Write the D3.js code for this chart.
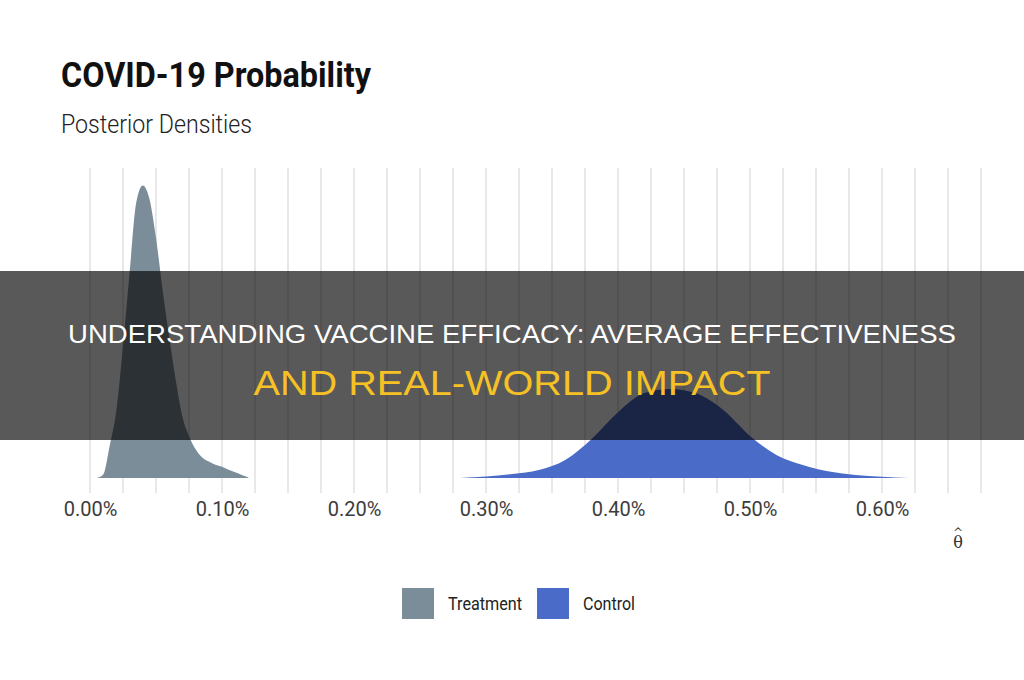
<!DOCTYPE html>
<html>
<head>
<meta charset="utf-8">
<script src="https://cdn.jsdelivr.net/npm/d3@7"></script>
<style>
    body { margin: 0; background: #fff; }
    svg { display: block; }
</style>
</head>
<body>
<script>
// posterior densities, theta in percent
var treatTheta = [0.005, 0.010, 0.015, 0.020, 0.025, 0.030, 0.035, 0.040, 0.045, 0.050, 0.055, 0.060,
    0.065, 0.070, 0.075, 0.080, 0.085, 0.090, 0.095, 0.100, 0.105, 0.110, 0.115, 0.120];
var treatDensity = [0, 0.35, 3.2, 6.6, 12.9, 20.0, 26.8, 28.5, 27.2, 23.4, 18.3, 13.7,
    9.5, 6.0, 4.1, 2.8, 2.0, 1.6, 1.3, 1.1, 0.8, 0.55, 0.3, 0.05];
var ctrlTheta = [0.28, 0.30, 0.32, 0.34, 0.36, 0.38, 0.40, 0.42, 0.44, 0.46, 0.48, 0.50,
    0.52, 0.54, 0.56, 0.58, 0.60, 0.62];
var ctrlDensity = [0, 0.15, 0.4, 0.78, 1.75, 3.8, 6.4, 8.27, 8.66, 8.2, 6.6, 4.1,
    2.24, 1.26, 0.63, 0.3, 0.12, 0];
var gridTicks = d3.range(0, 0.676, 0.025);
var labelTicks = [0, 0.1, 0.2, 0.3, 0.4, 0.5, 0.6];
var seriesNames = ["Treatment", "Control"];
var seriesColors = ["#7b8d99", "#4a6cc8"];

(function(w) {
    var c = {
        W: 1024,
        H: 680,
        svg: null,
        x: null,
        y: null,
        main: function() {
            c.svg = d3.select("body").append("svg")
                .attr("width", c.W)
                .attr("height", c.H);
            c.x = d3.scaleLinear().domain([0, 0.6]).range([90, 882]);
            c.y = d3.scaleLinear().domain([0, 30]).range([478, 170]);

            c.titles();
            c.grid();
            c.areas();
            c.legend();
            c.banner();
        },
        titles: function() {
            c.svg.append("text")
                .attr("x", 61).attr("y", 87)
                .attr("font-family", "Roboto")
                .attr("font-weight", 700)
                .attr("font-size", 35)
                .attr("fill", "#111")
                .attr("textLength", 310)
                .attr("lengthAdjust", "spacingAndGlyphs")
                .text("COVID-19 Probability");
            c.svg.append("text")
                .attr("x", 61).attr("y", 133)
                .attr("font-family", "Roboto")
                .attr("font-weight", 300)
                .attr("font-size", 25)
                .attr("fill", "#222")
                .attr("textLength", 191)
                .attr("lengthAdjust", "spacingAndGlyphs")
                .text("Posterior Densities");
        },
        grid: function() {
            c.svg.append("g").selectAll("line")
                .data(gridTicks)
                .enter()
                .append("line")
                .attr("x1", function(d) { return c.x(d); })
                .attr("x2", function(d) { return c.x(d); })
                .attr("y1", 168)
                .attr("y2", 493)
                .attr("stroke", "#dcdcdc")
                .attr("stroke-width", 1.3);

            var axis = d3.axisBottom(c.x)
                .tickValues(labelTicks)
                .tickSize(0)
                .tickPadding(0)
                .tickFormat(function(d) { return d.toFixed(2) + "%"; });
            var g = c.svg.append("g")
                .attr("transform", "translate(0,502)")
                .call(axis);
            g.select(".domain").remove();
            g.selectAll("text")
                .attr("dy", "0.71em")
                .attr("font-family", "Roboto")
                .attr("font-size", 20)
                .attr("fill", "#3c3c3c");

            // theta hat, one text with two chunks (theta + caret above it)
            var lab = c.svg.append("text")
                .attr("font-family", "DejaVu Serif")
                .attr("fill", "#333")
                .attr("text-anchor", "middle");
            lab.append("tspan")
                .attr("x", 958).attr("y", 548)
                .attr("font-size", 16)
                .text("\u03B8");
            lab.append("tspan")
                .attr("x", 958).attr("y", 537)
                .attr("font-size", 12)
                .text("^");
        },
        areas: function() {
            var area = d3.area()
                .x(function(d) { return c.x(d[0]); })
                .y0(c.y(0))
                .y1(function(d) { return c.y(d[1]); })
                .curve(d3.curveMonotoneX);
            var sets = [
                d3.zip(treatTheta, treatDensity),
                d3.zip(ctrlTheta, ctrlDensity)
            ];
            c.svg.append("g").selectAll("path")
                .data(sets)
                .enter()
                .append("path")
                .attr("d", area)
                .attr("fill", function(d, i) { return seriesColors[i]; });
        },
        legend: function() {
            var pos = [402, 537],
                widths = [74, 52];
            var g = c.svg.append("g").selectAll("g")
                .data(seriesNames)
                .enter()
                .append("g")
                .attr("transform", function(d, i) { return "translate(" + pos[i] + ",588)"; });
            g.append("rect")
                .attr("width", 32).attr("height", 31)
                .attr("fill", function(d, i) { return seriesColors[i]; });
            g.append("text")
                .attr("x", 46).attr("y", 22)
                .attr("font-family", "Roboto")
                .attr("font-size", 17.5)
                .attr("fill", "#222")
                .attr("textLength", function(d, i) { return widths[i]; })
                .attr("lengthAdjust", "spacingAndGlyphs")
                .text(function(d) { return d; });
        },
        banner: function() {
            c.svg.append("rect")
                .attr("x", 0).attr("y", 271)
                .attr("width", c.W).attr("height", 169)
                .attr("fill", "#000")
                .attr("fill-opacity", 0.65);
            c.svg.append("text")
                .attr("x", c.W / 2).attr("y", 343)
                .attr("text-anchor", "middle")
                .attr("font-family", "Liberation Sans")
                .attr("font-size", 26)
                .attr("fill", "#fff")
                .attr("textLength", 888)
                .attr("lengthAdjust", "spacingAndGlyphs")
                .text("UNDERSTANDING VACCINE EFFICACY: AVERAGE EFFECTIVENESS");
            c.svg.append("text")
                .attr("x", c.W / 2).attr("y", 395)
                .attr("text-anchor", "middle")
                .attr("font-family", "Liberation Sans")
                .attr("font-size", 35)
                .attr("fill", "#f6c125")
                .attr("textLength", 517)
                .attr("lengthAdjust", "spacingAndGlyphs")
                .text("AND REAL-WORLD IMPACT");
        }
    };
    c.main();
})(window);
</script>
</body>
</html>
